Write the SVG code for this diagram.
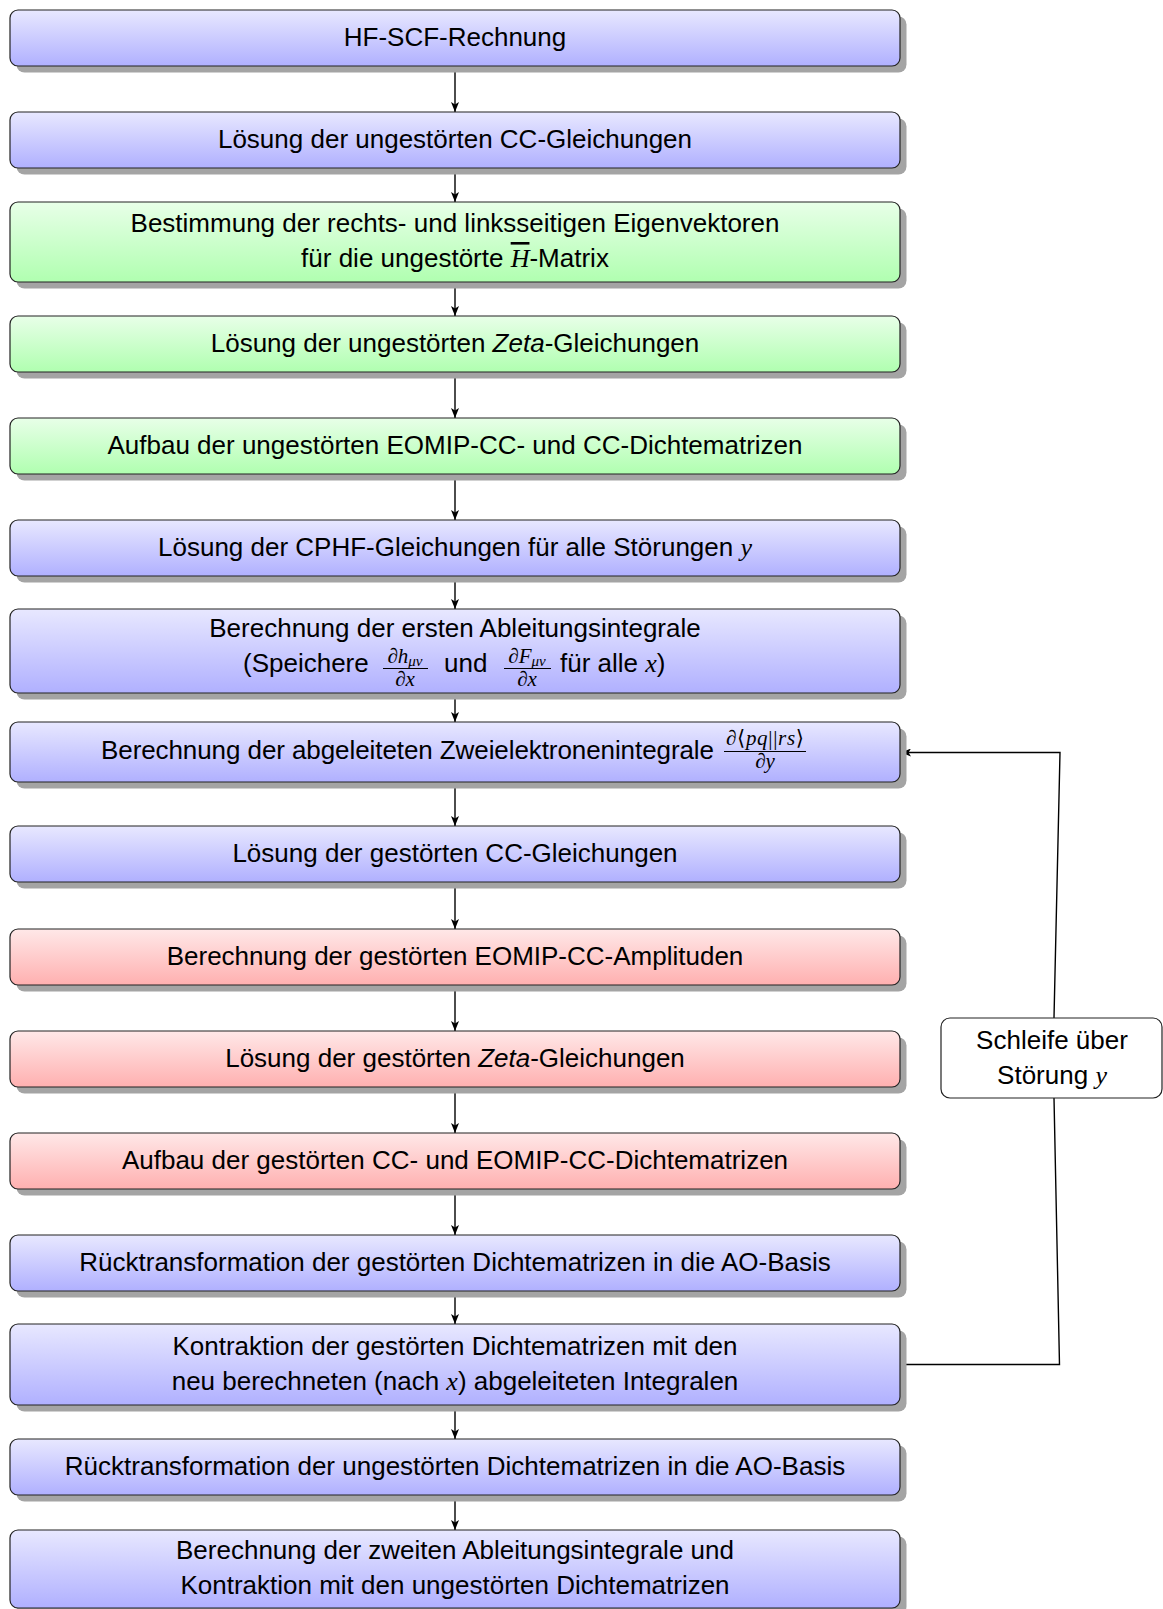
<svg xmlns="http://www.w3.org/2000/svg" width="1163" height="1609" viewBox="0 0 1163 1609">
<defs>
<linearGradient id="gb" x1="0" y1="0" x2="0" y2="1"><stop offset="0" stop-color="#e8e8ff"/><stop offset="1" stop-color="#b0b0ff"/></linearGradient>
<linearGradient id="gg" x1="0" y1="0" x2="0" y2="1"><stop offset="0" stop-color="#e8ffe8"/><stop offset="1" stop-color="#b0ffb0"/></linearGradient>
<linearGradient id="gr" x1="0" y1="0" x2="0" y2="1"><stop offset="0" stop-color="#ffe8e8"/><stop offset="1" stop-color="#ffb0b0"/></linearGradient>
<marker id="ah" viewBox="0 0 10 8" refX="10" refY="4" markerWidth="10" markerHeight="8" markerUnits="userSpaceOnUse" orient="auto"><path d="M0,0 L10,4 L0,8 L2.5,4 z" fill="#000"/></marker>
</defs>
<style>
.box{stroke:#222;stroke-width:1.2}
.sh{fill:#a4a4a4}
.b{fill:url(#gb)}
.g{fill:url(#gg)}
.r{fill:url(#gr)}
.t{font-family:"Liberation Sans",Arial,sans-serif;font-size:26px;fill:#000;text-anchor:middle}
.ts{font-family:"Liberation Sans",Arial,sans-serif;font-size:26px;fill:#000;text-anchor:start}
.m{font-family:"Liberation Serif","DejaVu Serif",serif;font-style:italic}
.f{font-family:"Liberation Serif","DejaVu Serif",serif;font-size:21px;fill:#000;text-anchor:middle}
.fb{stroke:#000;stroke-width:1}
.c{stroke:#000;stroke-width:1.4;fill:none}
</style>

<g id="connectors">
<line class="c" x1="455" y1="66" x2="455" y2="112" marker-end="url(#ah)"/>
<line class="c" x1="455" y1="168" x2="455" y2="202" marker-end="url(#ah)"/>
<line class="c" x1="455" y1="282" x2="455" y2="316" marker-end="url(#ah)"/>
<line class="c" x1="455" y1="372" x2="455" y2="418" marker-end="url(#ah)"/>
<line class="c" x1="455" y1="474" x2="455" y2="520" marker-end="url(#ah)"/>
<line class="c" x1="455" y1="576" x2="455" y2="609" marker-end="url(#ah)"/>
<line class="c" x1="455" y1="693" x2="455" y2="722" marker-end="url(#ah)"/>
<line class="c" x1="455" y1="782" x2="455" y2="826" marker-end="url(#ah)"/>
<line class="c" x1="455" y1="882" x2="455" y2="929" marker-end="url(#ah)"/>
<line class="c" x1="455" y1="985" x2="455" y2="1031" marker-end="url(#ah)"/>
<line class="c" x1="455" y1="1087" x2="455" y2="1133" marker-end="url(#ah)"/>
<line class="c" x1="455" y1="1189" x2="455" y2="1235" marker-end="url(#ah)"/>
<line class="c" x1="455" y1="1291" x2="455" y2="1324" marker-end="url(#ah)"/>
<line class="c" x1="455" y1="1405" x2="455" y2="1439" marker-end="url(#ah)"/>
<line class="c" x1="455" y1="1495" x2="455" y2="1530" marker-end="url(#ah)"/>
<path class="c" d="M900,1364.5 H1059.5 L1054,1098"/>
<path class="c" d="M1054,1018 L1060,752.5 H901" marker-end="url(#ah)"/>
</g>

<g id="n1">
<rect class="sh" x="16.5" y="16.5" width="890" height="56" rx="8"/>
<rect class="box b" x="10" y="10" width="890" height="56" rx="8"/>
<text class="t" x="455" y="46">HF-SCF-Rechnung</text>
</g>
<g id="n2">
<rect class="sh" x="16.5" y="118.5" width="890" height="56" rx="8"/>
<rect class="box b" x="10" y="112" width="890" height="56" rx="8"/>
<text class="t" x="455" y="148">Lösung der ungestörten CC-Gleichungen</text>
</g>
<g id="n3">
<rect class="sh" x="16.5" y="208.5" width="890" height="80" rx="8"/>
<rect class="box g" x="10" y="202" width="890" height="80" rx="8"/>
<text class="t" x="455" y="232">Bestimmung der rechts- und linksseitigen Eigenvektoren</text>
<text class="t" x="455" y="267">für die ungestörte <tspan class="m" text-decoration="overline">H</tspan>-Matrix</text>
</g>
<g id="n4">
<rect class="sh" x="16.5" y="322.5" width="890" height="56" rx="8"/>
<rect class="box g" x="10" y="316" width="890" height="56" rx="8"/>
<text class="t" x="455" y="352">Lösung der ungestörten <tspan font-style="italic">Zeta</tspan>-Gleichungen</text>
</g>
<g id="n5">
<rect class="sh" x="16.5" y="424.5" width="890" height="56" rx="8"/>
<rect class="box g" x="10" y="418" width="890" height="56" rx="8"/>
<text class="t" x="455" y="454">Aufbau der ungestörten EOMIP-CC- und CC-Dichtematrizen</text>
</g>
<g id="n6">
<rect class="sh" x="16.5" y="526.5" width="890" height="56" rx="8"/>
<rect class="box b" x="10" y="520" width="890" height="56" rx="8"/>
<text class="t" x="455" y="556">Lösung der CPHF-Gleichungen für alle Störungen <tspan class="m">y</tspan></text>
</g>
<g id="n7">
<rect class="sh" x="16.5" y="615.5" width="890" height="84" rx="8"/>
<rect class="box b" x="10" y="609" width="890" height="84" rx="8"/>
<text class="t" x="455" y="637">Berechnung der ersten Ableitungsintegrale</text>
<text class="ts" x="243" y="672">(Speichere</text>
<text class="f" x="405" y="663">∂<tspan font-style="italic">h</tspan><tspan font-size="15" font-style="italic" dy="3">μν</tspan></text>
<line class="fb" x1="383" y1="668.5" x2="428" y2="668.5"/>
<text class="f" x="405" y="686">∂<tspan font-style="italic">x</tspan></text>
<text class="ts" x="444" y="672">und</text>
<text class="f" x="527" y="663">∂<tspan font-style="italic">F</tspan><tspan font-size="15" font-style="italic" dy="3">μν</tspan></text>
<line class="fb" x1="504" y1="668.5" x2="551" y2="668.5"/>
<text class="f" x="527" y="686">∂<tspan font-style="italic">x</tspan></text>
<text class="ts" x="560" y="672">für alle <tspan class="m">x</tspan>)</text>
</g>
<g id="n8">
<rect class="sh" x="16.5" y="728.5" width="890" height="60" rx="8"/>
<rect class="box b" x="10" y="722" width="890" height="60" rx="8"/>
<text class="ts" x="101" y="759" textLength="613">Berechnung der abgeleiteten Zweielektronenintegrale</text>
<text class="f" x="765" y="745" textLength="78">∂⟨<tspan font-style="italic">pq</tspan>||<tspan font-style="italic">rs</tspan>⟩</text>
<line class="fb" x1="724" y1="751.5" x2="806" y2="751.5"/>
<text class="f" x="765" y="768">∂<tspan font-style="italic">y</tspan></text>
</g>
<g id="n9">
<rect class="sh" x="16.5" y="832.5" width="890" height="56" rx="8"/>
<rect class="box b" x="10" y="826" width="890" height="56" rx="8"/>
<text class="t" x="455" y="862">Lösung der gestörten CC-Gleichungen</text>
</g>
<g id="n10">
<rect class="sh" x="16.5" y="935.5" width="890" height="56" rx="8"/>
<rect class="box r" x="10" y="929" width="890" height="56" rx="8"/>
<text class="t" x="455" y="965">Berechnung der gestörten EOMIP-CC-Amplituden</text>
</g>
<g id="n11">
<rect class="sh" x="16.5" y="1037.5" width="890" height="56" rx="8"/>
<rect class="box r" x="10" y="1031" width="890" height="56" rx="8"/>
<text class="t" x="455" y="1067">Lösung der gestörten <tspan font-style="italic">Zeta</tspan>-Gleichungen</text>
</g>
<g id="n12">
<rect class="sh" x="16.5" y="1139.5" width="890" height="56" rx="8"/>
<rect class="box r" x="10" y="1133" width="890" height="56" rx="8"/>
<text class="t" x="455" y="1169">Aufbau der gestörten CC- und EOMIP-CC-Dichtematrizen</text>
</g>
<g id="n13">
<rect class="sh" x="16.5" y="1241.5" width="890" height="56" rx="8"/>
<rect class="box b" x="10" y="1235" width="890" height="56" rx="8"/>
<text class="t" x="455" y="1271">Rücktransformation der gestörten Dichtematrizen in die AO-Basis</text>
</g>
<g id="n14">
<rect class="sh" x="16.5" y="1330.5" width="890" height="81" rx="8"/>
<rect class="box b" x="10" y="1324" width="890" height="81" rx="8"/>
<text class="t" x="455" y="1355">Kontraktion der gestörten Dichtematrizen mit den</text>
<text class="t" x="455" y="1390">neu berechneten (nach <tspan class="m">x</tspan>) abgeleiteten Integralen</text>
</g>
<g id="n15">
<rect class="sh" x="16.5" y="1445.5" width="890" height="56" rx="8"/>
<rect class="box b" x="10" y="1439" width="890" height="56" rx="8"/>
<text class="t" x="455" y="1475">Rücktransformation der ungestörten Dichtematrizen in die AO-Basis</text>
</g>
<g id="n16">
<rect class="sh" x="16.5" y="1536.5" width="890" height="78" rx="8"/>
<rect class="box b" x="10" y="1530" width="890" height="78" rx="8"/>
<text class="t" x="455" y="1559">Berechnung der zweiten Ableitungsintegrale und</text>
<text class="t" x="455" y="1594">Kontraktion mit den ungestörten Dichtematrizen</text>
</g>
<g id="loop">
<rect x="941" y="1018" width="221" height="80" rx="9" fill="#fff" stroke="#222" stroke-width="1.2"/>
<text class="t" x="1052" y="1049">Schleife über</text>
<text class="t" x="1052" y="1084">Störung <tspan class="m">y</tspan></text>
</g>
</svg>
